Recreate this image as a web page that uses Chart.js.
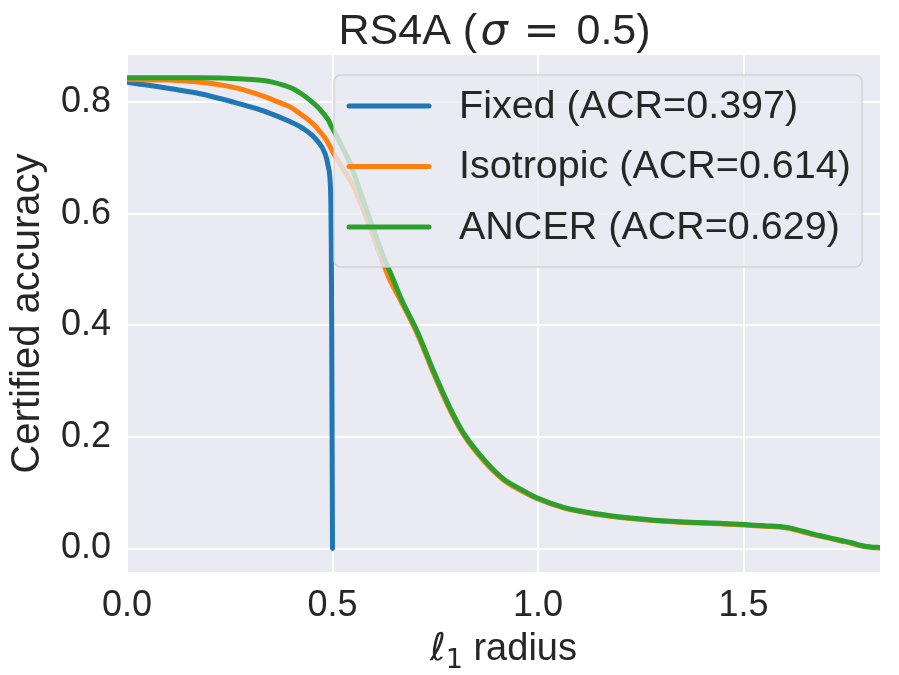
<!DOCTYPE html>
<html>
<head>
<meta charset="utf-8">
<script src="https://cdn.jsdelivr.net/npm/chart.js@4.4.0/dist/chart.umd.min.js"></script>
<style>
  html, body { margin: 0; padding: 0; background: #fff; }
  #wrap { width: 899px; height: 675px; }
</style>
</head>
<body>
<div id="wrap"><canvas id="chart" width="899" height="675"></canvas></div>
<script>
// certified accuracy vs l1 radius
const fixedR   = [0, 0.06, 0.12, 0.178, 0.259, 0.30, 0.34, 0.389, 0.429, 0.462, 0.482, 0.490, 0.494, 0.496, 0.497, 0.498, 0.499, 0.5];
const fixedAcc = [0.836, 0.830, 0.823, 0.8155, 0.8006, 0.792, 0.7827, 0.768, 0.753, 0.732, 0.708, 0.684, 0.661, 0.62, 0.55, 0.40, 0.2, 0.0];

const isoR   = [0, 0.1, 0.178, 0.259, 0.30, 0.34, 0.37, 0.397, 0.417, 0.437, 0.455, 0.470, 0.482, 0.490, 0.50, 0.518, 0.551, 0.583, 0.616, 0.640, 0.667, 0.707, 0.747, 0.786, 0.818, 0.867, 0.916, 0.964, 0.997, 1.062, 1.143, 1.224, 1.345, 1.45, 1.55, 1.605, 1.67, 1.70, 1.735, 1.76, 1.784, 1.81, 1.832];
const isoAcc = [0.841, 0.840, 0.836, 0.827, 0.819, 0.809, 0.800, 0.792, 0.782, 0.771, 0.760, 0.747, 0.736, 0.726, 0.712, 0.690, 0.649, 0.592, 0.526, 0.481, 0.443, 0.384, 0.312, 0.248, 0.205, 0.158, 0.123, 0.102, 0.090, 0.073, 0.061, 0.054, 0.047, 0.044, 0.040, 0.037, 0.025, 0.020, 0.014, 0.010, 0.005, 0.002, 0.001];

const ancerR   = [0, 0.1, 0.178, 0.283, 0.32, 0.356, 0.38, 0.405, 0.425, 0.445, 0.462, 0.478, 0.49, 0.498, 0.51, 0.52, 0.543, 0.583, 0.624, 0.648, 0.667, 0.707, 0.747, 0.786, 0.818, 0.867, 0.916, 0.964, 0.997, 1.062, 1.143, 1.224, 1.345, 1.45, 1.55, 1.605, 1.67, 1.70, 1.735, 1.76, 1.784, 1.81, 1.832];
const ancerAcc = [0.844, 0.844, 0.844, 0.842, 0.840, 0.836, 0.831, 0.824, 0.815, 0.804, 0.793, 0.780, 0.768, 0.756, 0.740, 0.725, 0.690, 0.607, 0.524, 0.482, 0.448, 0.388, 0.316, 0.252, 0.208, 0.161, 0.125, 0.104, 0.091, 0.074, 0.0625, 0.055, 0.048, 0.045, 0.041, 0.038, 0.026, 0.021, 0.015, 0.011, 0.006, 0.003, 0.002];

const seriesNames  = ['Fixed (ACR=0.397)', 'Isotropic (ACR=0.614)', 'ANCER (ACR=0.629)'];
const seriesColors = ['#1f77b4', '#ff7f0e', '#2ca02c'];

const xTicks = [0, 0.5, 1.0, 1.5];
const yTicks = [0, 0.2, 0.4, 0.6, 0.8];
const xRange = [0, 1.832];
const yRange = [-0.042, 0.885];

const TEXT = '#262626';
const FONT = "'Liberation Sans', Arial, sans-serif";

function toPoints(xs, ys) {
  return xs.map((x, i) => ({ x: x, y: ys[i] }));
}

// grey panel behind the grid
const panelBg = {
  id: 'panelBg',
  beforeDraw(chart) {
    const { ctx, chartArea: a } = chart;
    ctx.save();
    ctx.fillStyle = '#fff';
    ctx.fillRect(0, 0, chart.width, chart.height);
    ctx.fillStyle = '#eaeaf2';
    ctx.fillRect(a.left, a.top, a.right - a.left, a.bottom - a.top);
    ctx.restore();
  }
};

// title with italic sigma, and x label with subscript
const mathText = {
  id: 'mathText',
  afterDraw(chart) {
    const { ctx, chartArea: a } = chart;
    const cx = (a.left + a.right) / 2;
    ctx.save();
    ctx.fillStyle = TEXT;
    ctx.textBaseline = 'alphabetic';
    ctx.textAlign = 'left';

    // [text, font, offset from title start]
    const x0 = cx - 165;
    const parts = [
      ['RS4A (', `43px ${FONT}`, 0],
      ['\u03c3', `italic 43px 'DejaVu Sans'`, 142],
      ['=', `43px 'DejaVu Sans'`, 185],
      ['0.5)', `43px ${FONT}`, 238]
    ];
    parts.forEach(p => { ctx.font = p[1]; ctx.fillText(p[0], x0 + p[2], 44); });

    const lab = [
      ['\u2113', `italic 38px 'DejaVu Sans'`, 0],
      ['1', `27px 'DejaVu Sans'`, 8],
      [' radius', `38px ${FONT}`, 0]
    ];
    let w = 0;
    lab.forEach(p => { ctx.font = p[1]; w += ctx.measureText(p[0]).width; });
    let x = cx - w / 2;
    lab.forEach(p => { ctx.font = p[1]; ctx.fillText(p[0], x, 660 + p[2]); x += ctx.measureText(p[0]).width; });
    ctx.restore();
  }
};

// legend inside the axes, drawn over the lines with a see-through frame
const innerLegend = {
  id: 'innerLegend',
  afterDatasetsDraw(chart) {
    const { ctx, chartArea: a } = chart;
    const bx = a.left + 207, by = a.top + 20, bw = 528, bh = 192, r = 7;
    ctx.save();
    ctx.beginPath();
    ctx.roundRect(bx, by, bw, bh, r);
    ctx.fillStyle = 'rgba(234,234,242,0.8)';
    ctx.fill();
    ctx.strokeStyle = 'rgba(204,204,204,0.8)';
    ctx.lineWidth = 1.5;
    ctx.stroke();

    ctx.font = `39.5px ${FONT}`;
    ctx.textBaseline = 'middle';
    ctx.lineCap = 'round';
    seriesNames.forEach((name, i) => {
      const y = by + 31 + i * 60.5;
      ctx.strokeStyle = seriesColors[i];
      ctx.lineWidth = 5;
      ctx.beginPath();
      ctx.moveTo(bx + 15, y);
      ctx.lineTo(bx + 95, y);
      ctx.stroke();
      ctx.fillStyle = TEXT;
      ctx.fillText(name, bx + 125, y + 1);
    });
    ctx.restore();
  }
};

const datasets = [
  { label: seriesNames[0], data: toPoints(fixedR, fixedAcc), borderColor: seriesColors[0], order: 2 },
  { label: seriesNames[1], data: toPoints(isoR, isoAcc), borderColor: seriesColors[1], order: 1 },
  { label: seriesNames[2], data: toPoints(ancerR, ancerAcc), borderColor: seriesColors[2], order: 0 }
].map(d => Object.assign(d, {
  borderWidth: 5, pointRadius: 0, cubicInterpolationMode: 'monotone', fill: false, clip: 0,
  borderCapStyle: 'round', borderJoinStyle: 'round'
}));

new Chart(document.getElementById('chart'), {
  type: 'line',
  data: { datasets: datasets },
  options: {
    responsive: false,
    animation: false,
    devicePixelRatio: 1,
    layout: { padding: { top: 55, right: 19, left: 0, bottom: 0 } },
    plugins: {
      legend: { display: false },
      title: { display: false },
      tooltip: { enabled: false }
    },
    scales: {
      x: {
        type: 'linear',
        min: xRange[0],
        max: xRange[1],
        afterBuildTicks: s => { s.ticks = xTicks.map(v => ({ value: v })); },
        afterFit: s => { s.height = 675 - 572; },
        ticks: { color: TEXT, font: { family: FONT, size: 36 }, padding: 12, maxRotation: 0, callback: v => v.toFixed(1) },
        grid: { color: '#ffffff', lineWidth: 2, drawTicks: false },
        border: { display: false }
      },
      y: {
        type: 'linear',
        min: yRange[0],
        max: yRange[1],
        afterBuildTicks: s => { s.ticks = yTicks.map(v => ({ value: v })); },
        afterFit: s => { s.width = 127; },
        ticks: { color: TEXT, font: { family: FONT, size: 36 }, padding: 16, callback: v => v.toFixed(1) },
        grid: { color: '#ffffff', lineWidth: 2, drawTicks: false },
        border: { display: false },
        title: { display: true, text: 'Certified accuracy', color: TEXT, font: { family: FONT, size: 40 }, padding: { top: 4, bottom: 0 } }
      }
    }
  },
  plugins: [panelBg, innerLegend, mathText]
});
</script>
</body>
</html>
